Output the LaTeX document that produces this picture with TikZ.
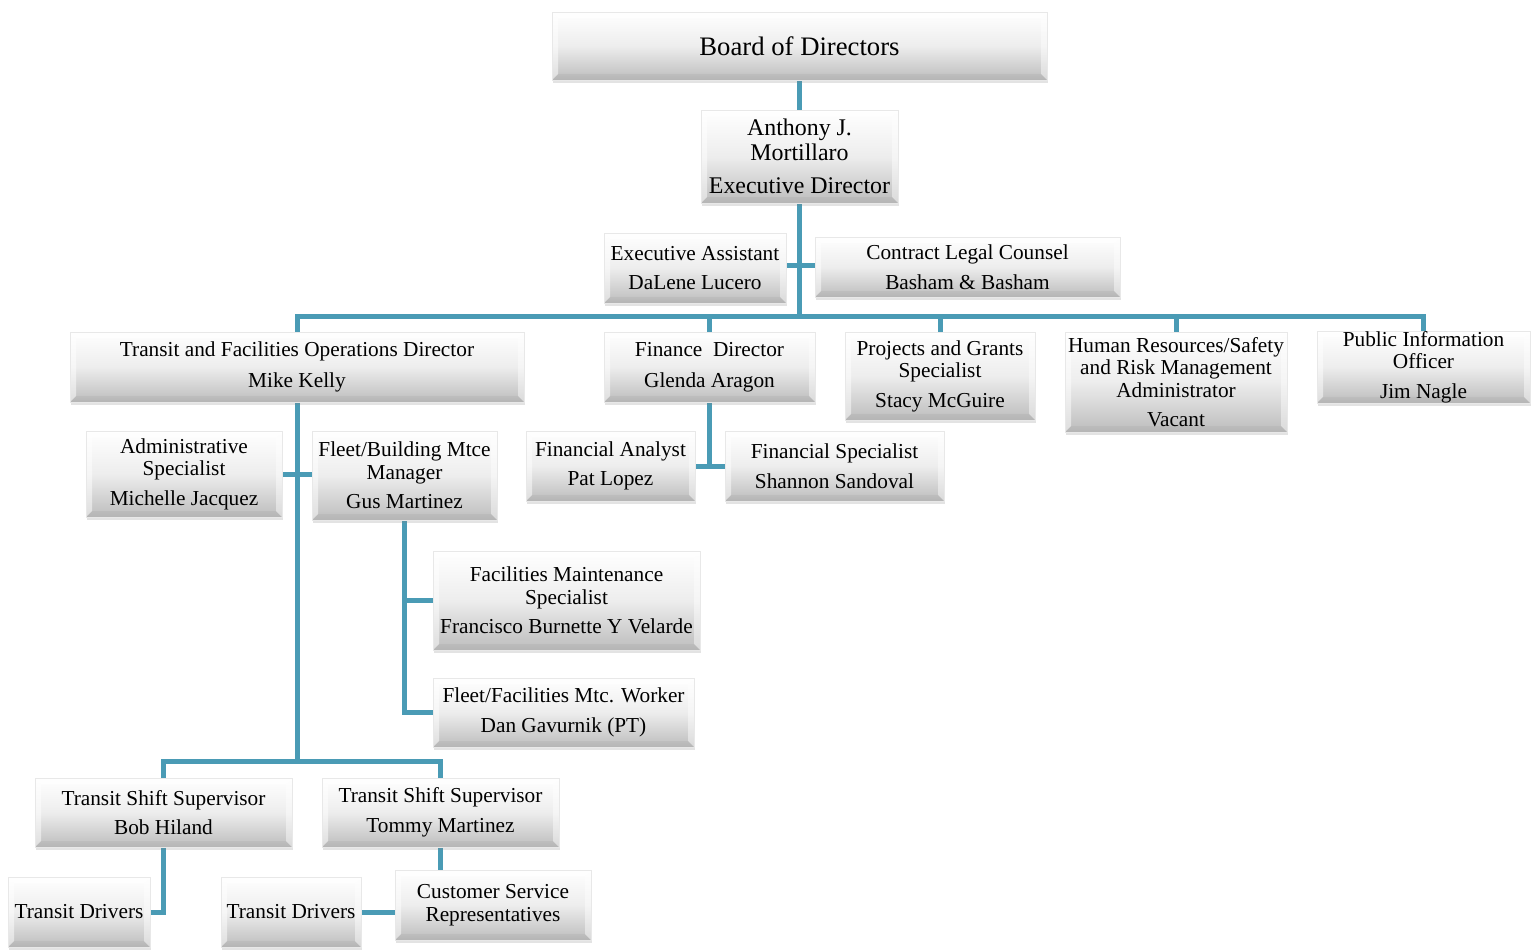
\documentclass[tikz,border=0pt]{standalone}
\usepackage{fontspec}
\setmainfont{Liberation Serif}
\usetikzlibrary{shadows,backgrounds}
\definecolor{connc}{HTML}{4A9BB5}
\tikzset{
  orgbox/.style={inner sep=0pt, align=center, font=\fontsize{21.3}{22.5}\selectfont,
    draw=black!9, line width=0.6pt,
    top color=white, bottom color=black!26, middle color=black!7,
    drop shadow={opacity=0.22, shadow xshift=1pt, shadow yshift=-3pt},
    path picture={
      \fill[white,opacity=0.75] (path picture bounding box.north west) -- (path picture bounding box.north east)
        -- ([xshift=-6pt,yshift=-6pt]path picture bounding box.north east) -- ([xshift=6pt,yshift=-6pt]path picture bounding box.north west) -- cycle;
      \fill[white,opacity=0.5] (path picture bounding box.north west) -- ([xshift=6pt,yshift=-6pt]path picture bounding box.north west)
        -- ([xshift=6pt,yshift=6pt]path picture bounding box.south west) -- (path picture bounding box.south west) -- cycle;
      \fill[white,opacity=0.45] (path picture bounding box.north east) -- ([xshift=-6pt,yshift=-6pt]path picture bounding box.north east)
        -- ([xshift=-6pt,yshift=6pt]path picture bounding box.south east) -- (path picture bounding box.south east) -- cycle;
      \fill[black,opacity=0.04] (path picture bounding box.south west) -- ([xshift=6pt,yshift=6pt]path picture bounding box.south west)
        -- ([xshift=-6pt,yshift=6pt]path picture bounding box.south east) -- (path picture bounding box.south east) -- cycle;
    }},
  connline/.style={draw=connc, line width=5pt},
}
\newcommand\orgnode[7][]{\node[orgbox,#1, minimum width=#5pt-#3pt, minimum height=#6pt-#4pt] (#2) at ({(#3+#5)/2},{(#4+#6)/2}) {#7};}
\begin{document}
\begin{tikzpicture}[x=1pt,y=-1pt]
\useasboundingbox (0,0) rectangle (1535,950);
\orgnode[font=\fontsize{26.7}{29}\selectfont]{board}{552}{12}{1047}{80}{Board of Directors}
\orgnode[font=\fontsize{23.9}{24.5}\selectfont]{ceo}{701}{110}{898}{203}{Anthony J.\\Mortillaro\\[9pt]Executive Director}
\orgnode{ea}{604}{233}{786}{303}{Executive Assistant\\[7pt]DaLene Lucero}
\orgnode{legal}{815}{237}{1120}{297}{Contract Legal Counsel\\[7pt]Basham \& Basham}
\orgnode{ops}{70}{332}{524}{402}{Transit and Facilities Operations Director\\[8pt]Mike Kelly}
\orgnode{fin}{604}{332}{815}{402}{Finance\ \ Director\\[8pt]Glenda Aragon}
\orgnode{proj}{845}{332}{1035}{420}{Projects and Grants\\Specialist\\[7pt]Stacy McGuire}
\orgnode{hr}{1065}{332}{1287}{432}{Human Resources/Safety\\and Risk Management\\Administrator\\[7pt]Vacant}
\orgnode{pio}{1317}{332}{1530}{402}{Public Information\\Officer\\[7pt]Jim Nagle}
\orgnode{admin}{86}{431}{282}{517}{Administrative\\Specialist\\[7pt]Michelle Jacquez}
\orgnode{fleetmgr}{312}{431}{497}{520}{Fleet/Building Mtce\\Manager\\[7pt]Gus Martinez}
\orgnode{fa}{526}{431}{695}{501}{Financial Analyst\\[7pt]Pat Lopez}
\orgnode{fs}{725}{431}{944}{501}{Financial Specialist\\[7pt]Shannon Sandoval}
\orgnode{facil}{433}{551}{700}{650}{Facilities Maintenance\\Specialist\\[7pt]Francisco Burnette Y Velarde}
\orgnode{worker}{433}{678}{694}{747}{Fleet/Facilities Mtc. Worker\\[7pt]Dan Gavurnik (PT)}
\orgnode{tssa}{35}{778}{292}{847}{Transit Shift Supervisor\\[7pt]Bob Hiland}
\orgnode{tssb}{322}{778}{559}{847}{Transit Shift Supervisor\\[7pt]Tommy Martinez}
\orgnode{tda}{8}{877}{150}{947}{Transit Drivers}
\orgnode{tdb}{221}{877}{361}{947}{Transit Drivers}
\orgnode{csr}{395}{870}{591}{940}{Customer Service\\Representatives}
\coordinate (bus) at (800,316);
\coordinate (opsbus) at (297,761);
\begin{scope}[on background layer]
\draw[connline] (board.south) -- (ceo.north);
\draw[connline] (ceo.south) -- (ceo.south |- bus);
\draw[connline] (ea.east |- 0,265) -- (legal.west |- 0,265);
\draw[connline] (ops.north) -- (ops.north |- bus) -- (pio.north |- bus) -- (pio.north);
\draw[connline] (fin.north) -- (fin.north |- bus);
\draw[connline] (proj.north) -- (proj.north |- bus);
\draw[connline] (hr.north) -- (hr.north |- bus);
\draw[connline] (ops.south) -- (ops.south |- opsbus);
\draw[connline] (admin.east) -- (fleetmgr.west |- admin.east);
\draw[connline] (tssa.north) -- (tssa.north |- opsbus) -- (tssb.north |- opsbus) -- (tssb.north);
\draw[connline] (fleetmgr.south) |- (worker.west);
\draw[connline] (fleetmgr.south |- facil.west) -- (facil.west);
\draw[connline] (fin.south) -- (fin.south |- fa.east);
\draw[connline] (fa.east) -- (fs.west);
\draw[connline] (tssa.south) |- (tda.east);
\draw[connline] (tssb.south) -- (tssb.south |- csr.north);
\draw[connline] (tdb.east) -- (csr.west |- tdb.east);
\end{scope}
\end{tikzpicture}
\end{document}
